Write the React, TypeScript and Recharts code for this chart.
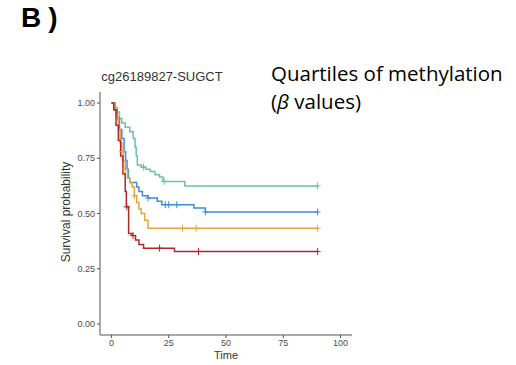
import React from 'react';
import { ComposedChart, Line, XAxis, YAxis } from 'recharts';

// Kaplan-Meier step curves, one per methylation quartile
const greenTimes = [0, 1.5, 2.5, 3.5, 4.5, 6, 8, 9.5, 10.3, 10.8, 11.3, 13, 15, 17, 19, 21, 22.5, 32, 90];
const greenSurv = [1, 0.98, 0.96, 0.93, 0.91, 0.89, 0.87, 0.84, 0.8, 0.76, 0.72, 0.71, 0.7, 0.69, 0.675, 0.665, 0.645, 0.625, 0.625];
const greenCensor = [14, 23, 90];

const blueTimes = [0, 1.5, 2.5, 3.5, 4.5, 5.5, 6.2, 6.8, 7.4, 8, 11, 12, 13.5, 16, 20, 22, 36, 41, 90];
const blueSurv = [1, 0.97, 0.93, 0.88, 0.84, 0.78, 0.74, 0.7, 0.66, 0.64, 0.62, 0.6, 0.58, 0.57, 0.555, 0.54, 0.525, 0.507, 0.507];
const blueCensor = [16, 23.5, 25, 28.5, 41, 90];

const orangeTimes = [0, 1.5, 2, 3, 3.8, 4.5, 5.2, 6, 7, 8, 9, 10, 11, 12, 13, 14.5, 16, 90];
const orangeSurv = [1, 0.97, 0.94, 0.88, 0.82, 0.78, 0.74, 0.7, 0.66, 0.64, 0.62, 0.58, 0.55, 0.52, 0.5, 0.47, 0.433, 0.433];
const orangeCensor = [4.6, 6, 10, 31, 37, 90];

const redTimes = [0, 1, 2, 3, 4, 5, 6, 6.5, 7.5, 9, 10.5, 12, 14, 27.5, 90];
const redSurv = [1, 0.97, 0.9, 0.83, 0.76, 0.68, 0.6, 0.53, 0.41, 0.4, 0.38, 0.36, 0.343, 0.328, 0.328];
const redCensor = [6.7, 9.4, 21, 38, 90];

const xTicks = [0, 25, 50, 75, 100];
const yTicks = [0, 0.25, 0.5, 0.75, 1];

const levelAt = (times: number[], surv: number[], t: number) => {
  let s = surv[0];
  times.forEach((tt, i) => {
    if (tt <= t) s = surv[i];
  });
  return s;
};

const buildSeries = (times: number[], surv: number[], censor: number[]) => {
  const pts = times.map((t, i) => ({ t, s: surv[i], c: false }));
  censor.forEach((t) => {
    const existing = pts.find((p) => p.t === t);
    if (existing) existing.c = true;
    else pts.push({ t, s: levelAt(times, surv, t), c: true });
  });
  return pts.sort((a, b) => a.t - b.t);
};

const SERIES = [
  { name: 'Q4', color: '#6cc3a0', data: buildSeries(greenTimes, greenSurv, greenCensor) },
  { name: 'Q3', color: '#3b8ee0', data: buildSeries(blueTimes, blueSurv, blueCensor) },
  { name: 'Q2', color: '#e3a73b', data: buildSeries(orangeTimes, orangeSurv, orangeCensor) },
  { name: 'Q1', color: '#b3262a', data: buildSeries(redTimes, redSurv, redCensor) },
];

const censorDot = (color: string) => (props: any) => {
  const { cx, cy, payload, index } = props;
  if (!payload || !payload.c) return <g key={`n-${index}`} />;
  return (
    <g key={`c-${index}`}>
      <line x1={cx - 3} x2={cx + 3} y1={cy} y2={cy} stroke={color} strokeWidth={1} />
      <line x1={cx} x2={cx} y1={cy - 3.5} y2={cy + 3.5} stroke={color} strokeWidth={1} />
    </g>
  );
};

const axisFont = { fontSize: 9, fill: '#4d4d4d', fontFamily: 'Liberation Sans, Arial, sans-serif' };
const labelFont = 'Liberation Sans, Arial, sans-serif';

export default function App() {
  return (
    <div style={{ position: 'absolute', left: 0, top: 0, width: 516, height: 365, background: '#fff' }}>
      <div
        style={{
          position: 'absolute', left: 21, top: 2, fontFamily: labelFont, fontWeight: 'bold',
          fontSize: 28, letterSpacing: 7, color: '#000',
        }}
      >
        B)
      </div>
      <div
        style={{
          position: 'absolute', left: 62, width: 200, top: 69, textAlign: 'center',
          fontFamily: labelFont, fontSize: 13, color: '#333', lineHeight: '16px',
        }}
      >
        cg26189827-SUGCT
      </div>
      <div
        style={{
          position: 'absolute', left: 271, top: 59, fontFamily: 'Open Sans, sans-serif',
          fontSize: 20.5, lineHeight: '28px', color: '#000',
        }}
      >
        Quartiles of methylation
        <br />
        (<i>β</i> values)
      </div>

      <ComposedChart
        width={516}
        height={365}
        margin={{ top: 92, right: 164, left: 56, bottom: 10 }}
        style={{ position: 'absolute', left: 0, top: 0 }}
      >
        <XAxis
          type="number"
          dataKey="t"
          domain={[-5, 105]}
          ticks={xTicks}
          allowDuplicatedCategory={false}
          tick={axisFont}
          tickSize={3}
          tickMargin={2}
          height={20}
          stroke="#555"
        />
        <YAxis
          type="number"
          dataKey="s"
          domain={[-0.05, 1.05]}
          ticks={yTicks}
          tickFormatter={(v: number) => v.toFixed(2)}
          tick={axisFont}
          tickSize={3}
          tickMargin={2}
          width={44}
          stroke="#555"
        />
        {SERIES.map((s) => (
          <Line
            key={s.name}
            data={s.data}
            dataKey="s"
            type="stepAfter"
            stroke={s.color}
            strokeWidth={1.5}
            dot={censorDot(s.color)}
            activeDot={false}
            isAnimationActive={false}
          />
        ))}
      </ComposedChart>

      <div
        style={{
          position: 'absolute', left: 66, top: 212, transform: 'translate(-50%, -50%) rotate(-90deg)',
          whiteSpace: 'nowrap', fontFamily: labelFont, fontSize: 12, color: '#333',
        }}
      >
        Survival probability
      </div>
      <div
        style={{
          position: 'absolute', left: 226, top: 355, transform: 'translate(-50%, -50%)',
          fontFamily: labelFont, fontSize: 11, color: '#333',
        }}
      >
        Time
      </div>
    </div>
  );
}
